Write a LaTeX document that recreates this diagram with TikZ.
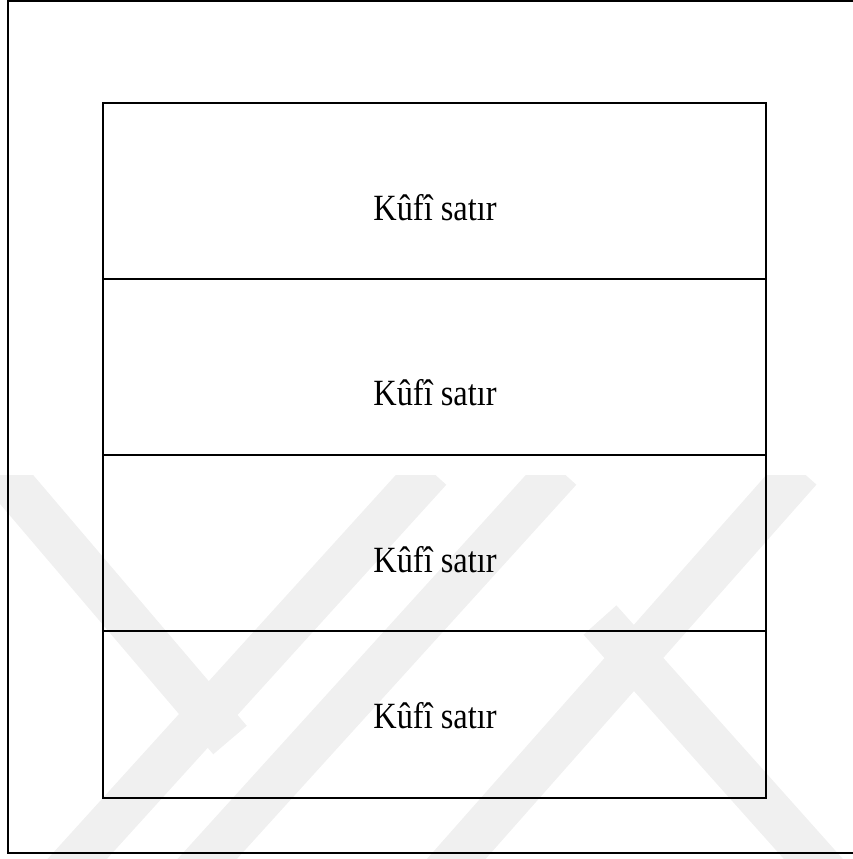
\documentclass[tikz,border=0pt]{standalone}
\usepackage{graphicx}
\usepackage{fontspec}
\setmainfont{Liberation Serif}
\begin{document}
\begin{tikzpicture}[x=1pt,y=-1pt,
  frame/.style={line width=2.3pt,line cap=rect},
  cell/.style={draw,line width=2.3pt,rectangle,minimum width=663pt,inner sep=0pt},
  lbl/.style={anchor=base,font=\fontsize{37}{44}\selectfont,inner sep=0pt},
  wm/.style={line width=44pt,draw=black!6,line cap=butt}]
\useasboundingbox (0,0) rectangle (853,859);
% faint watermark
\begin{scope}
\clip (0,475) rectangle (853,859);
\draw[wm] (0,470) -- (230,740);
\draw[wm] (430,470) -- (40,900);
\draw[wm] (560,470) -- (170,900);
\draw[wm] (800,470) -- (420,900);
\draw[wm] (600,620) -- (850,900);
\end{scope}
% outer frame
\draw[frame] (853,1) -| (7.75,852.7) -- (853,852.7);
% inner cells
\node[cell,minimum height=175.7pt] (s1) at (434.5,190.85) {};
\node[cell,minimum height=176pt] (s2) at (434.5,366.7) {};
\node[cell,minimum height=176pt] (s3) at (434.5,542.7) {};
\node[cell,minimum height=167.6pt] (s4) at (434.5,714.5) {};
% labels
\node[lbl] (t1) at (435,220) {\scalebox{0.875}[1]{Kûfî satır}};
\node[lbl] (t2) at (435,405) {\scalebox{0.875}[1]{Kûfî satır}};
\node[lbl] (t3) at (435,572) {\scalebox{0.875}[1]{Kûfî satır}};
\node[lbl] (t4) at (435,728) {\scalebox{0.875}[1]{Kûfî satır}};
\end{tikzpicture}
\end{document}
